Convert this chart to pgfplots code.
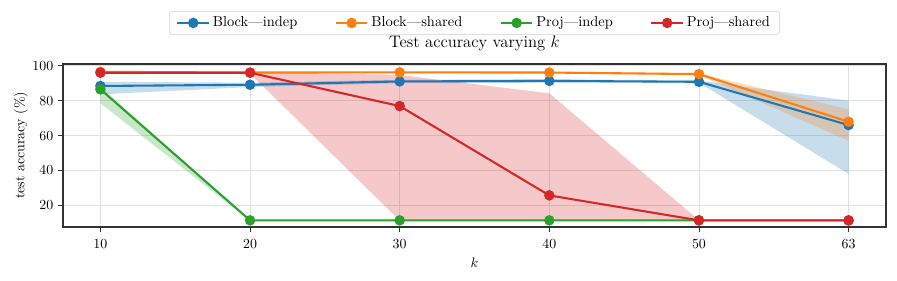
\documentclass[border=0pt]{standalone}
\usepackage{pgfplots}
\pgfplotsset{compat=1.18}
\usepgfplotslibrary{fillbetween}
\definecolor{tblue}{HTML}{1F77B4}
\definecolor{torange}{HTML}{FF7F0E}
\definecolor{tgreen}{HTML}{2CA02C}
\definecolor{tred}{HTML}{D62728}
\begin{document}
\begin{tikzpicture}
\begin{axis}[
  scale only axis, width=592.56pt, height=117.36pt,
  xmin=-0.25, xmax=5.25, ymin=7.6, ymax=101,
  xtick={0,1,2,3,4,5}, xticklabels={10,20,30,40,50,63},
  ytick={20,40,60,80,100},
  grid=major, grid style={black!12, line width=0.6pt},
  axis line style={black!80, line width=0.8pt},
  tick style={black!80, line width=0.6pt},
  tick align=outside, xtick pos=left, ytick pos=left,
  major tick length=3.5pt,
  xticklabel style={yshift=-1.5pt},
  title={Test accuracy varying $k$},
  title style={at={(0.5,1)}, anchor=base, yshift=6pt, font=\large},
  xlabel={$k$}, ylabel={test accuracy (\%)},
  ylabel shift=-3.6pt,
  legend columns=4,
  legend cell align=left,
  legend image code/.code={%
    \draw[mark repeat=2,mark phase=2] plot coordinates {(0cm,0cm)(0.4cm,0cm)(0.8cm,0cm)};},
  legend style={at={(0.5,1)}, anchor=south, yshift=21pt, draw=black!18, rounded corners=2pt,
    inner xsep=5pt, inner ysep=2pt, font=\fontsize{10.4}{12}\selectfont,
    /tikz/every even column/.append style={column sep=25pt}},
]
% bands
\addplot[name path=bu, draw=none, forget plot] coordinates {(0,90.8)(1,90.3)(2,92.0)(3,92.3)(4,91.5)(5,80.0)};
\addplot[name path=bl, draw=none, forget plot] coordinates {(0,83.6)(1,87.8)(2,90.0)(3,90.3)(4,90.3)(5,38.0)};
\addplot[fill=tblue, fill opacity=0.25, draw=none, forget plot] fill between[of=bu and bl];
\addplot[name path=ou, draw=none, forget plot] coordinates {(0,97.0)(1,96.5)(2,96.6)(3,96.5)(4,95.7)(5,75.0)};
\addplot[name path=ol, draw=none, forget plot] coordinates {(0,96.0)(1,95.5)(2,95.8)(3,95.6)(4,94.7)(5,57.0)};
\addplot[fill=torange, fill opacity=0.25, draw=none, forget plot] fill between[of=ou and ol];
\addplot[name path=gu, draw=none, forget plot] coordinates {(0,88.0)(1,11.6)(2,11.6)(3,11.6)(4,11.6)(5,11.6)};
\addplot[name path=gl, draw=none, forget plot] coordinates {(0,78.5)(1,11.2)(2,11.2)(3,11.2)(4,11.2)(5,11.2)};
\addplot[fill=tgreen, fill opacity=0.25, draw=none, forget plot] fill between[of=gu and gl];
\addplot[name path=ru, draw=none, forget plot] coordinates {(0,96.5)(1,96.5)(2,94.7)(3,84.2)(4,11.5)(5,11.5)};
\addplot[name path=rl, draw=none, forget plot] coordinates {(0,95.7)(1,95.5)(2,11.35)(3,11.35)(4,11.3)(5,11.3)};
\addplot[fill=tred, fill opacity=0.25, draw=none, forget plot] fill between[of=ru and rl];
% lines
\addplot[tblue, line width=1.5pt, mark=*, mark size=3pt] coordinates {(0,88.4)(1,89.1)(2,91.0)(3,91.3)(4,90.8)(5,66.0)};
\addlegendentry{Block---indep}
\addplot[torange, line width=1.5pt, mark=*, mark size=3pt] coordinates {(0,96.5)(1,96.1)(2,96.2)(3,96.1)(4,95.2)(5,67.9)};
\addlegendentry{Block---shared}
\addplot[tgreen, line width=1.5pt, mark=*, mark size=3pt] coordinates {(0,86.5)(1,11.4)(2,11.4)(3,11.4)(4,11.4)(5,11.4)};
\addlegendentry{Proj---indep}
\addplot[tred, line width=1.5pt, mark=*, mark size=3pt] coordinates {(0,96.0)(1,96.0)(2,76.9)(3,25.7)(4,11.4)(5,11.4)};
\addlegendentry{Proj---shared}
\end{axis}
\path (-45.36pt,-38.88pt) rectangle (600.48pt,163.44pt);
\end{tikzpicture}
\end{document}
